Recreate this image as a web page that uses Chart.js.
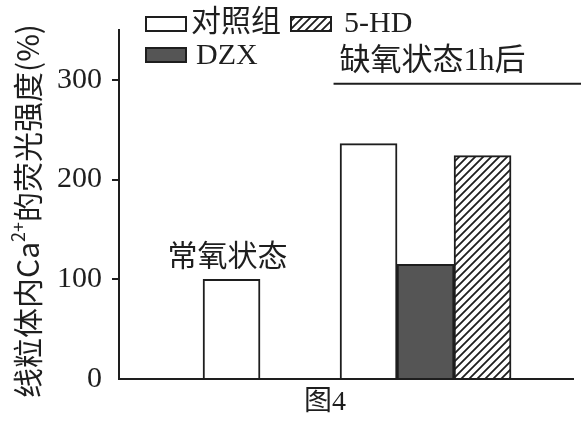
<!DOCTYPE html>
<html lang="zh-CN">
<head>
<meta charset="utf-8">
<title>图4 线粒体内Ca2+的荧光强度</title>
<script src="https://cdn.jsdelivr.net/npm/chart.js@4"></script>
<style>
  html, body { margin: 0; padding: 0; background: #fff; }
  canvas { display: block; }
</style>
</head>
<body>
<canvas id="fig" width="581" height="421"></canvas>
<script>
// groups along the x axis and the three treatments
const groups = ['常氧状态', '缺氧状态1h后'];
const seriesNames = ['对照组', 'DZX', '5-HD'];
const control = [100, 236];
const dzx = [null, 115];
const hd5 = [null, 224];
const yTicks = [0, 100, 200, 300];

const INK = '#1e1e1e';
const SERIF = "'Liberation Serif', 'Noto Sans CJK SC'";
const SANS = "'Noto Sans CJK SC', 'Noto Sans'";

// "/" hatching for the 5-HD bars
function hatch() {
  const c = document.createElement('canvas');
  c.width = c.height = 8;
  const g = c.getContext('2d');
  g.fillStyle = '#fff';
  g.fillRect(0, 0, 8, 8);
  g.strokeStyle = INK;
  g.lineWidth = 1.8;
  g.beginPath();
  g.moveTo(-1, 9); g.lineTo(9, -1);
  g.moveTo(-1, 1); g.lineTo(1, -1);
  g.moveTo(7, 9); g.lineTo(9, 7);
  g.stroke();
  return g.createPattern(c, 'repeat');
}

// group i sits at x = i + 1 on a linear axis
const toPoints = arr => arr.map((v, i) => ({ x: i + 1, y: v }));

const barStyle = {
  borderColor: INK,
  borderWidth: 2,
  barThickness: 57,
  skipNull: true
};

// legend, group captions, bracket line, y title and figure number
const annotations = {
  id: 'annotations',
  afterDraw(chart) {
    const { ctx, scales: { x, y } } = chart;
    ctx.save();
    ctx.textBaseline = 'alphabetic';
    ctx.textAlign = 'left';

    // legend: box x, box y, text x, baseline
    const slots = [[145, 16, 191, 31], [145, 47, 196, 64], [290, 16, 344, 32]];
    chart.data.datasets.forEach((ds, i) => {
      const [bx, by, tx, ty] = slots[i];
      ctx.fillStyle = ds.backgroundColor;
      ctx.fillRect(bx, by, 42, 16);
      ctx.lineWidth = 2;
      ctx.strokeStyle = INK;
      ctx.strokeRect(bx + 1, by + 1, 40, 14);
      ctx.fillStyle = INK;
      ctx.font = '30px ' + SERIF;
      ctx.fillText(ds.label, tx, ty);
    });

    const c1 = x.getPixelForValue(1);
    const c2 = x.getPixelForValue(2);

    ctx.fillStyle = INK;
    ctx.font = '30px ' + SERIF;
    ctx.textAlign = 'center';
    ctx.fillText(groups[0], c1 - 4, y.getPixelForValue(113));

    ctx.font = '31px ' + SERIF;
    ctx.textAlign = 'left';
    ctx.fillText(groups[1], c2 - 86, y.getPixelForValue(310));

    ctx.strokeStyle = INK;
    ctx.lineWidth = 2;
    ctx.beginPath();
    ctx.moveTo(c2 - 92, y.getPixelForValue(296));
    ctx.lineTo(chart.width, y.getPixelForValue(296));
    ctx.stroke();

    ctx.font = '28px ' + SERIF;
    ctx.fillText('图4', 304, 410);

    // rotated y title with a raised "2+"
    const parts = [
      { t: '线粒体内Ca', size: 30, dy: 0 },
      { t: '2+', size: 18, dy: -10 },
      { t: '的荧光强度(%)', size: 30, dy: 0 }
    ];
    let total = 0;
    parts.forEach(p => {
      ctx.font = p.size + 'px ' + SANS;
      p.w = ctx.measureText(p.t).width;
      total += p.w;
    });
    ctx.translate(28, 211);
    ctx.rotate(-Math.PI / 2);
    ctx.textBaseline = 'middle';
    let px = -total / 2;
    parts.forEach(p => {
      ctx.font = p.size + 'px ' + SANS;
      ctx.fillText(p.t, px, p.dy);
      px += p.w;
    });
    ctx.restore();
  }
};

new Chart(document.getElementById('fig'), {
  type: 'bar',
  data: {
    datasets: [
      { label: seriesNames[0], data: toPoints(control), backgroundColor: '#ffffff', ...barStyle },
      { label: seriesNames[1], data: toPoints(dzx), backgroundColor: '#555555', ...barStyle },
      { label: seriesNames[2], data: toPoints(hd5), backgroundColor: hatch(), ...barStyle }
    ]
  },
  options: {
    responsive: false,
    animation: false,
    devicePixelRatio: 1,
    layout: { padding: { top: 30, right: 8, bottom: 42, left: 0 } },
    plugins: {
      legend: { display: false },
      tooltip: { enabled: false }
    },
    scales: {
      x: {
        type: 'linear',
        offset: false,
        min: 0.42,
        max: 2.76,
        ticks: { display: false },
        grid: { display: false },
        border: { color: INK, width: 2 },
        afterFit: s => { s.height = 0; }
      },
      y: {
        min: 0,
        max: 350,
        afterBuildTicks: s => { s.ticks = yTicks.map(v => ({ value: v })); },
        ticks: {
          font: { family: SERIF, size: 30 },
          color: INK,
          padding: 10
        },
        grid: {
          drawOnChartArea: false,
          tickLength: 7,
          lineWidth: 2,
          color: c => (c.tick && c.tick.value === 0 ? 'rgba(0,0,0,0)' : INK)
        },
        border: { color: INK, width: 2 },
        afterFit: s => { s.width = 119; }
      }
    }
  },
  plugins: [annotations]
});
</script>
</body>
</html>
